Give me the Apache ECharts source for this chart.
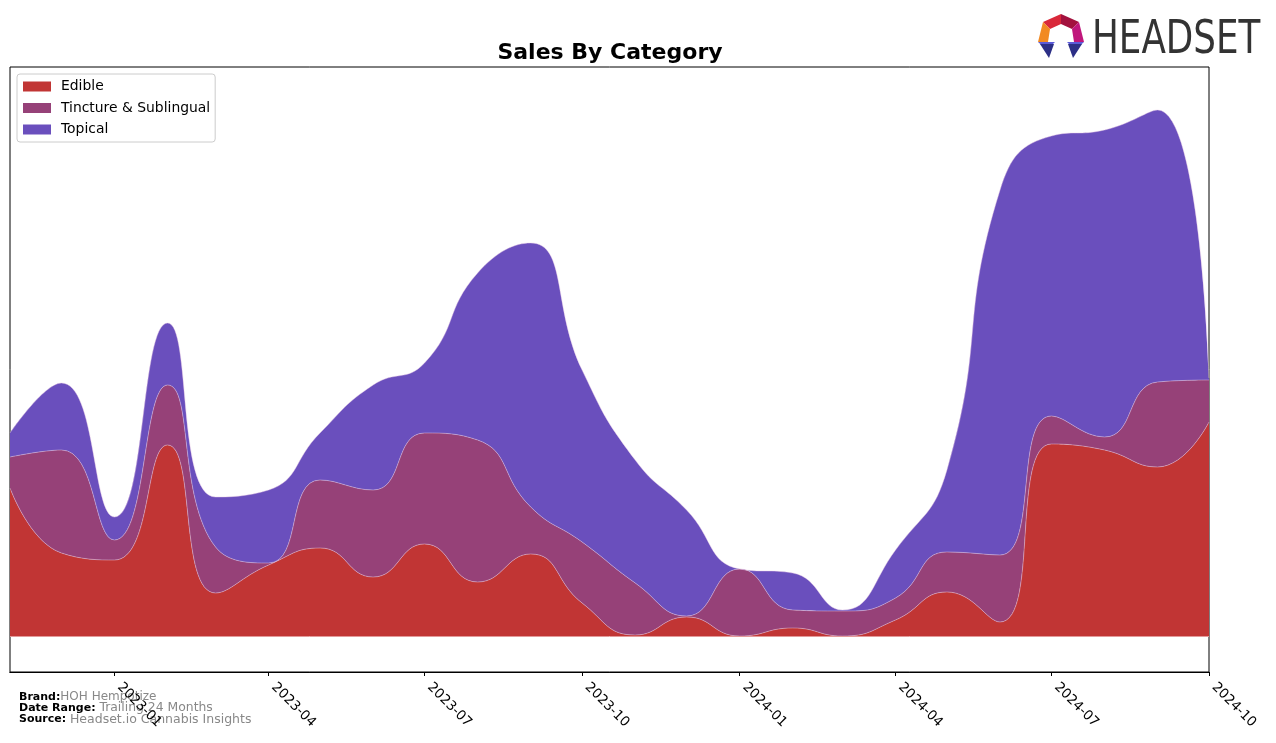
<!DOCTYPE html>
<html>
<head>
<meta charset="utf-8">
<script src="https://cdn.jsdelivr.net/npm/echarts@6/dist/echarts.min.js"></script>
<style>
  html, body { margin: 0; padding: 0; background: #ffffff; }
  #chart { width: 1276px; height: 743px; }
</style>
</head>
<body>
<div id="chart"></div>
<script>
// ---- data (units are relative sales) ----
const months = [
  '2022-11-01','2022-12-01','2023-01-01','2023-02-01','2023-03-01','2023-04-01',
  '2023-05-01','2023-06-01','2023-07-01','2023-08-01','2023-09-01','2023-10-01',
  '2023-11-01','2023-12-01','2024-01-01','2024-02-01','2024-03-01','2024-04-01',
  '2024-05-01','2024-06-01','2024-07-01','2024-08-01','2024-09-01','2024-10-01'
];
const edible    = [148, 83, 76, 191, 43, 71, 88, 59, 92, 54, 82, 33, 1, 19, 0, 8, 0, 16, 44, 14, 192, 186, 169, 214];
const tincture  = [31, 103, 20, 60, 46, 2, 68, 87, 111, 142, 47, 61, 52, 1, 67, 18, 25, 22, 40, 67, 28, 13, 85, 42];
const topical   = [24, 67, 23, 62, 50, 73, 47, 105, 70, 167, 264, 172, 123, 106, 0, 37, 1, 48, 82, 365, 280, 307, 272, 2];
const tickDates = ['2023-01-01','2023-04-01','2023-07-01','2023-10-01','2024-01-01','2024-04-01','2024-07-01','2024-10-01'];
const seriesNames = ['Edible', 'Tincture & Sublingual', 'Topical'];
const colors = ['#c13534', '#964178', '#6a4fbd'];

function toTime(d) { const p = d.split('-').map(Number); return Date.UTC(p[0], p[1] - 1, p[2]); }
function fmt(t) { const d = new Date(t); return d.getUTCFullYear() + '-' + String(d.getUTCMonth() + 1).padStart(2, '0'); }

const chart = echarts.init(document.getElementById('chart'), null, { renderer: 'canvas' });
const tickTimes = tickDates.map(toTime);
const monthTimes = months.map(toTime);
const tMin = monthTimes[0], tMax = monthTimes[monthTimes.length - 1];

function mkSeries(name, values, color, extra) {
  return Object.assign({
    name: name,
    type: 'line',
    stack: 'total',
    xAxisIndex: 0,
    smooth: 0.5,
    symbol: 'none',
    data: monthTimes.map((t, i) => [t, values[i]]),
    lineStyle: { width: 0.8, color: 'rgba(235,205,230,0.55)' },
    areaStyle: { color: color, opacity: 1 },
    itemStyle: { color: color },
    emphasis: { disabled: true }
  }, extra || {});
}

const option = {
  animation: false,
  backgroundColor: '#ffffff',
  textStyle: { fontFamily: 'DejaVu Sans' },
  title: {
    text: 'Sales By Category',
    left: 610,
    textAlign: 'center',
    top: 42,
    padding: 0,
    textStyle: { fontFamily: 'DejaVu Sans', fontSize: 22, fontWeight: 'bold', color: '#000' }
  },
  legend: {
    orient: 'vertical',
    left: 17,
    top: 74,
    padding: [5, 5, 5, 6],
    itemWidth: 28,
    itemHeight: 10,
    itemGap: 6.5,
    icon: 'rect',
    backgroundColor: '#ffffff',
    borderColor: '#cccccc',
    borderWidth: 1,
    borderRadius: 3,
    textStyle: { fontFamily: 'DejaVu Sans', fontSize: 13.9, color: '#000', lineHeight: 15, padding: [0, 0, 0, 5] },
    data: seriesNames
  },
  grid: {
    left: 10, right: 67, top: 67, bottom: 71,
    show: true, borderColor: '#000', borderWidth: 1, backgroundColor: 'transparent'
  },
  xAxis: [
    {
      type: 'time',
      min: tMin,
      max: tMax,
      position: 'bottom',
      splitLine: { show: false },
      axisLine: { show: true, onZero: false, lineStyle: { color: '#000', width: 1 } },
      axisTick: { show: false },
      axisLabel: { show: false }
    },
    {
      type: 'value',
      min: tMin,
      max: tMax,
      position: 'bottom',
      offset: 0,
      splitLine: { show: false },
      axisLine: { show: true, onZero: false, lineStyle: { color: '#000', width: 1 } },
      axisTick: { show: true, length: 4, lineStyle: { color: '#000' }, customValues: tickTimes },
      axisLabel: {
        show: true,
        customValues: tickTimes,
        rotate: -45,
        margin: 18,
        verticalAlign: 'bottom',
        fontFamily: 'DejaVu Sans',
        fontSize: 13.5,
        color: '#000',
        showMinLabel: true,
        showMaxLabel: true,
        hideOverlap: false,
        formatter: function (v) { return fmt(v); }
      }
    }
  ],
  yAxis: {
    type: 'value',
    min: -36,
    max: 569,
    show: false,
    splitLine: { show: false }
  },
  series: [
    mkSeries(seriesNames[0], edible, colors[0], {
      markLine: {
        silent: true, symbol: 'none', animation: false,
        label: { show: false },
        lineStyle: { color: '#e39a9a', width: 1, type: 'solid' },
        data: [{ yAxis: 0 }]
      }
    }),
    mkSeries(seriesNames[1], tincture, colors[1]),
    mkSeries(seriesNames[2], topical, colors[2])
  ],
  graphic: [
    {
      type: 'text', left: 19, top: 691,
      style: {
        text: '{b|Brand:}{v|HOH Hempotize}',
        rich: {
          b: { fontFamily: 'DejaVu Sans', fontSize: 11, fontWeight: 'bold', fill: '#000' },
          v: { fontFamily: 'DejaVu Sans', fontSize: 12, fill: '#888888' }
        }
      }
    },
    {
      type: 'text', left: 19, top: 702,
      style: {
        text: '{b|Date Range: }{v|Trailing 24 Months}',
        rich: {
          b: { fontFamily: 'DejaVu Sans', fontSize: 11, fontWeight: 'bold', fill: '#000' },
          v: { fontFamily: 'DejaVu Sans', fontSize: 12.4, fill: '#888888' }
        }
      }
    },
    {
      type: 'text', left: 19, top: 713,
      style: {
        text: '{b|Source: }{v|Headset.io Cannabis Insights}',
        rich: {
          b: { fontFamily: 'DejaVu Sans', fontSize: 11, fontWeight: 'bold', fill: '#000' },
          v: { fontFamily: 'DejaVu Sans', fontSize: 12.5, fill: '#888888' }
        }
      }
    },
    {
      type: 'group',
      children: [
        { type: 'polygon', shape: { points: [[1043,22],[1061,14],[1061,24],[1050,29]] }, style: { fill: '#d9283a' } },
        { type: 'polygon', shape: { points: [[1061,14],[1079,22],[1072,29],[1061,24]] }, style: { fill: '#a3123e' } },
        { type: 'polygon', shape: { points: [[1043,22],[1050,29],[1048,42],[1038,42]] }, style: { fill: '#f28a22' } },
        { type: 'polygon', shape: { points: [[1079,22],[1084,42],[1074,42],[1072,29]] }, style: { fill: '#c0177c' } },
        { type: 'polygon', shape: { points: [[1038,42],[1055,42],[1047,50]] }, style: { fill: '#5b5ad8' } },
        { type: 'polygon', shape: { points: [[1040,44],[1054,44],[1049,58]] }, style: { fill: '#2c2f86' } },
        { type: 'polygon', shape: { points: [[1067,42],[1084,42],[1075,50]] }, style: { fill: '#5b5ad8' } },
        { type: 'polygon', shape: { points: [[1068,44],[1082,44],[1073,58]] }, style: { fill: '#2c2f86' } },
        {
          type: 'text', x: 1092, y: 41, scaleX: 0.76,
          style: {
            text: 'HEADSET', fill: '#333333',
            fontFamily: 'DejaVu Sans', fontSize: 47,
            verticalAlign: 'middle', align: 'left'
          }
        }
      ]
    }
  ]
};
chart.setOption(option);
</script>
</body>
</html>
